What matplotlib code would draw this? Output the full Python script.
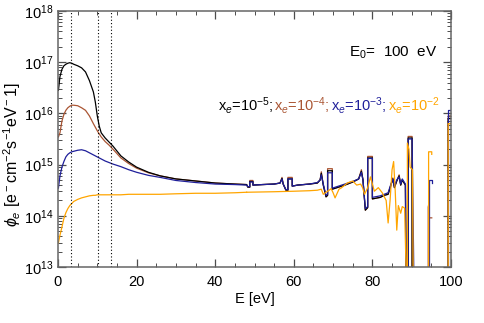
import numpy as np
import matplotlib
matplotlib.use("Agg")
import matplotlib.pyplot as plt
from matplotlib.offsetbox import TextArea, HPacker, AnchoredOffsetbox
from matplotlib.ticker import MultipleLocator, LogLocator, NullFormatter

plt.rcParams['font.family'] = ['Liberation Sans', 'DejaVu Sans']
plt.rcParams['mathtext.fontset'] = 'custom'
plt.rcParams['mathtext.rm'] = 'Liberation Sans'
plt.rcParams['mathtext.it'] = 'Liberation Sans:italic'
plt.rcParams['mathtext.bf'] = 'Liberation Sans:bold'

# smooth part of the spectra (E in eV, values as log10 of flux)
E_smooth = [0.1, 0.5, 1, 1.5, 2, 2.5, 3, 3.5, 4, 5, 6, 7, 8, 9, 9.5, 10, 10.5,
            11, 12, 13, 14, 16, 18, 20, 23, 26, 30, 35, 40, 45, 48]
log_xe5 = [16.45, 16.72, 16.86, 16.93, 16.96, 16.98, 16.99, 16.98, 16.96, 16.93,
           16.89, 16.81, 16.64, 16.42, 16.22, 15.95, 15.75, 15.62, 15.52, 15.44,
           15.36, 15.17, 15.05, 14.95, 14.85, 14.78, 14.72, 14.68, 14.64, 14.62, 14.61]
log_xe4 = [15.54, 15.62, 15.85, 15.98, 16.06, 16.11, 16.14, 16.16, 16.16, 16.15,
           16.11, 16.06, 15.95, 15.80, 15.73, 15.66, 15.60, 15.54, 15.45, 15.38,
           15.30, 15.13, 15.02, 14.93, 14.84, 14.78, 14.72, 14.68, 14.64, 14.62, 14.61]
log_xe3 = [14.54, 14.78, 14.95, 15.06, 15.15, 15.20, 15.23, 15.25, 15.26, 15.28,
           15.29, 15.27, 15.23, 15.19, 15.17, 15.15, 15.13, 15.11, 15.07, 15.04,
           15.01, 14.96, 14.90, 14.85, 14.79, 14.75, 14.69, 14.65, 14.62, 14.61, 14.60]
log_xe2 = [13.47, 13.62, 13.78, 13.95, 14.06, 14.14, 14.20, 14.24, 14.28, 14.32,
           14.35, 14.37, 14.39, 14.40, 14.40, 14.41, 14.41, 14.41, 14.41, 14.41,
           14.41, 14.41, 14.42, 14.42, 14.42, 14.42, 14.43, 14.44, 14.44, 14.45, 14.46]

# noisy high-energy part (12.5 = below the axis floor, nan = gap)
nan = np.nan
E_tail_a = [48.3, 48.8, 48.8, 49.6, 49.6, 52, 55, 56.5, 57, 57.3, 58, 58.5, 58.5,
            59.6, 59.6, 61, 64, 66, 66.7, 67.0, 67.5, 68.2, 68.6, 68.6, 69.8, 69.8,
            71, 73, 75, 76.5, 77.2, 77.6, 78.2, 78.8, 78.8, 80, 80, 82, 83, 84,
            84.8, 85.2, 85.6, 86.2, 86.8, 87.2, 87.6, 88.4, 88.6, 89.1, 89.1, 90.1,
            90.1, 90.5, 99.3, 99.3, 100]
tail_xe5 = [14.56, 14.56, 14.67, 14.67, 14.60, 14.61, 14.62, 14.64, 14.73, 14.62,
            14.50, 14.50, 14.72, 14.72, 14.58, 14.60, 14.62, 14.64, 14.70, 14.83,
            14.60, 14.37, 14.40, 14.88, 14.88, 14.52, 14.55, 14.60, 14.66, 14.72,
            14.87, 14.70, 14.11, 14.16, 15.13, 15.13, 14.33, 14.36, 14.40, 14.42,
            14.62, 14.72, 14.55, 14.68, 14.78, 14.60, 14.70, 14.60, 12.5, 12.5,
            15.52, 15.52, 12.5, nan, 12.5, 15.90, 15.90]
tail_xe4 = [14.56, 14.56, 14.69, 14.69, 14.60, 14.61, 14.62, 14.64, 14.75, 14.62,
            14.50, 14.50, 14.75, 14.75, 14.58, 14.60, 14.62, 14.64, 14.70, 14.86,
            14.60, 14.37, 14.40, 14.92, 14.92, 14.52, 14.55, 14.60, 14.66, 14.72,
            14.90, 14.70, 14.11, 14.16, 15.16, 15.16, 14.33, 14.36, 14.40, 14.42,
            14.62, 14.74, 14.55, 14.68, 14.80, 14.60, 14.70, 14.60, 12.5, 12.5,
            15.55, 15.55, 12.5, nan, 12.5, 15.90, 15.90]
E_tail_b = [48.3, 48.8, 48.8, 49.6, 49.6, 52, 55, 56.5, 57, 57.3, 58, 58.5, 58.5,
            59.6, 59.6, 61, 64, 66, 66.7, 67.0, 67.5, 68.2, 68.6, 68.6, 69.8, 69.8,
            71, 73, 75, 76.5, 77.2, 77.6, 78.2, 78.8, 78.8, 80, 80, 82, 83, 84,
            84.8, 85.2, 85.6, 86.2, 86.8, 87.2, 87.6, 88.4, 88.6, 89.1, 89.1, 90.1,
            90.4, 90.4, 90.6]
tail_xe3 = [14.57, 14.57, 14.66, 14.66, 14.60, 14.61, 14.62, 14.64, 14.72, 14.62,
            14.51, 14.51, 14.72, 14.72, 14.58, 14.60, 14.62, 14.65, 14.70, 14.80,
            14.62, 14.40, 14.42, 14.84, 14.84, 14.54, 14.57, 14.62, 14.67, 14.72,
            14.85, 14.70, 14.14, 14.18, 15.12, 15.12, 14.36, 14.39, 14.42, 14.45,
            14.64, 14.72, 14.58, 14.70, 14.76, 14.62, 14.72, 14.62, 12.5, 12.5,
            15.50, 15.50, 13.72, 13.72, 12.5]

# isolated bins near 95 and 100 eV
E_late_a = [94.2, 94.2, 94.4, 94.5, 95.1, 95.2, 99.3, 99.3, 100]
late_xe4 = [12.5, 14.17, 14.25, 13.96, 13.96, nan, 12.5, 15.95, 15.95]
E_late_b = [94.3, 94.3, 95.1, 95.1, 95.2, 99.3, 99.3, 100]
late_xe3 = [12.5, 14.70, 14.70, 14.64, nan, 12.5, 16.07, 16.07]

E_tail_c = [48, 55, 60, 64, 66, 67, 67.5, 68, 69, 69.5, 70, 70.5, 71.5, 72, 73, 73.6,
            75, 76, 77, 77.5, 78, 78.8, 79.5, 80, 80.5, 81.5, 82.5, 83.5, 84, 84.5,
            85, 85.4, 85.8, 86.2, 86.6, 87.2, 87.6, 88.2, 88.7, 88.9, 88.9, 89.3,
            89.6, 90.2, 90.4, 90.5, 94.3, 94.3, 95.1, 95.1, 95.2, 99.3, 99.3, 100]
tail_xe2 = [14.46, 14.47, 14.48, 14.49, 14.50, 14.52, 14.42, 14.45, 14.50, 14.53, 14.45,
            14.35, 14.52, 14.54, 14.60, 14.64, 14.68, 14.60, 14.62, 14.55, 14.42,
            14.55, 14.76, 14.62, 14.48, 14.55, 14.45, 14.30, 13.86, 14.30, 14.90,
            15.06, 14.50, 13.72, 14.20, 14.05, 14.18, 14.15, 12.5, 12.5, 15.42,
            15.30, 14.95, 14.90, 12.5, nan, 12.5, 15.25, 15.25, 15.20, nan, 12.5,
            15.80, 15.80]

dotted_E = [3.3, 10.2, 13.5]

c_xe5 = 'black'
c_xe4 = '#aa5533'
c_xe3 = '#1f1f9a'
c_xe2 = '#ffa500'

fig = plt.figure(figsize=(4.85, 3.23), dpi=100)
ax = fig.add_axes([58 / 485, 56 / 323, 393 / 485, 256 / 323])

lw = 0.9
ax.plot(E_smooth, 10 ** np.array(log_xe2), color=c_xe2, lw=lw)
ax.plot(E_smooth + E_tail_a, 10 ** np.array(log_xe4 + tail_xe4), color=c_xe4, lw=lw)
ax.plot(E_late_a, 10 ** np.array(late_xe4), color=c_xe4, lw=lw)
ax.plot(E_smooth + E_tail_a, 10 ** np.array(log_xe5 + tail_xe5), color=c_xe5, lw=lw)
ax.plot(E_smooth + E_tail_b, 10 ** np.array(log_xe3 + tail_xe3), color=c_xe3, lw=lw)
ax.plot(E_late_b, 10 ** np.array(late_xe3), color=c_xe3, lw=lw)
# orange drawn on top in the noisy range
ax.plot(E_tail_c, 10 ** np.array(tail_xe2), color=c_xe2, lw=lw)

for e in dotted_E:
    ax.axvline(e, color='black', ls=(0, (1, 2)), lw=0.8)

ax.set_yscale('log')
ax.set_xlim(0, 100)
ax.set_ylim(1e13, 1e18)
ax.xaxis.set_major_locator(MultipleLocator(20))
ax.xaxis.set_minor_locator(MultipleLocator(5))
ax.yaxis.set_major_locator(LogLocator(base=10, numticks=10))
ax.yaxis.set_minor_locator(LogLocator(base=10, subs=np.arange(2, 10), numticks=20))
ax.yaxis.set_minor_formatter(NullFormatter())
ax.tick_params(which='both', direction='in', top=True, right=True, colors='0.3',
               labelcolor='black', labelsize=10.5)
ax.tick_params(which='major', length=6, width=0.9)
ax.tick_params(which='minor', length=3, width=0.7)
ax.tick_params(axis='x', which='major', pad=6)
for s in ax.spines.values():
    s.set_color('0.4')
    s.set_linewidth(1.1)

ax.set_xlabel('E [eV]', fontsize=10.5, labelpad=2)
ax.set_ylabel(r'$\phi_e$ [e$^-$cm$^{-2}$s$^{-1}$eV$^-$1]', fontsize=11.5)
ax.yaxis.set_label_coords(-0.09, 0.44)

ax.text(0.965, 0.835, r'E$_0$=  100  eV', transform=ax.transAxes, ha='right',
        va='center', fontsize=11)

parts = [(r'x$_e$=10$^{-5}$; ', c_xe5), (r'x$_e$=10$^{-4}$; ', c_xe4),
         (r'x$_e$=10$^{-3}$; ', c_xe3), (r'x$_e$=10$^{-2}$', c_xe2)]
boxes = [TextArea(t, textprops=dict(color=c, fontsize=10.5)) for t, c in parts]
pack = HPacker(children=boxes, align='baseline', pad=0, sep=0)
anch = AnchoredOffsetbox(loc='center right', child=pack, pad=0, borderpad=0,
                         frameon=False, bbox_to_anchor=(0.97, 0.63),
                         bbox_transform=ax.transAxes)
ax.add_artist(anch)

fig.savefig('out.png', dpi=100)
